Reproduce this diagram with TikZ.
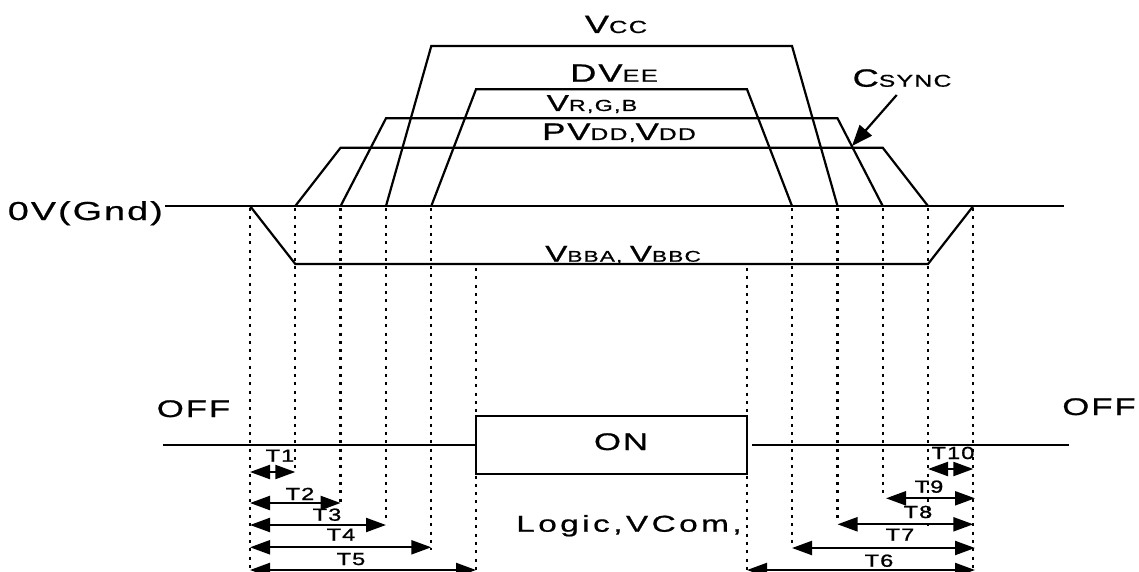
\documentclass[tikz,border=0pt]{standalone}
\usepackage{fontspec}
\setmainfont{Liberation Sans}
\newfontfamily\af[FakeStretch=1.45,LetterSpace=8,FakeBold=0.8]{Liberation Sans}
\newfontfamily\afw[FakeStretch=1.45,LetterSpace=15,FakeBold=0.8]{Liberation Sans}
\newfontfamily\aft[FakeStretch=1.35,LetterSpace=6,FakeBold=1]{Liberation Sans}
\usetikzlibrary{arrows.meta}
\newcommand\fsz[1]{\fontsize{#1}{#1}\selectfont}
\begin{document}
\begin{tikzpicture}[x=1pt,y=-1pt,
  wire/.style={line width=2.2pt, line join=miter},
  dotl/.style={line width=2.3pt, dash pattern=on 3pt off 5.3pt},
  dim/.style={line width=2.2pt, {Triangle[length=20pt,width=14pt]}-{Triangle[length=20pt,width=14pt]}},
  lbl/.style={inner sep=0pt, anchor=base, font=\af},
  tl/.style={inner sep=0pt, anchor=base, font=\aft\fsz{17.5}}]
\useasboundingbox (0,0) rectangle (1139,572);
% columns
\def\xa{250}\def\xb{295.3}\def\xc{340.6}\def\xd{386}\def\xe{431.3}\def\xf{476}
\def\xF{747}\def\xE{792}\def\xD{837.5}\def\xC{882.7}\def\xB{928}\def\xA{973.3}
% ground line
\coordinate (g0) at (165,206); \coordinate (g1) at (1064,206);
\draw[wire] (g0) -- (g1);
% waveforms
\draw[wire] (\xa,206) -- (\xb,264) -- (\xB,264) -- (\xA,206);
\draw[wire] (\xb,206) -- (\xc,147.7) -- (\xC,147.7) -- (\xB,206);
\draw[wire] (\xc,206) -- (\xd,118.3) -- (\xD,118.3) -- (\xC,206);
\draw[wire] (\xd,206) -- (\xe,46) -- (\xE,46) -- (\xD,206);
\draw[wire] (\xe,206) -- (\xf,89.3) -- (\xF,89.3) -- (\xE,206);
% dotted guides
\draw[dotl] (\xa,208) -- (\xa,572);
\draw[dotl] (\xb,208) -- (\xb,468);
\draw[dotl] (\xc,208) -- (\xc,503);
\draw[dotl] (\xd,208) -- (\xd,522);
\draw[dotl] (\xe,208) -- (\xe,550);
\draw[dotl] (\xf,268) -- (\xf,572);
\draw[dotl] (\xF,268) -- (\xF,572);
\draw[dotl] (\xE,208) -- (\xE,547);
\draw[dotl] (\xD,208) -- (\xD,521);
\draw[dotl] (\xC,208) -- (\xC,495);
\draw[dotl] (\xB,208) -- (\xB,527);
\draw[dotl] (\xA,208) -- (\xA,572);
% ON box and OFF lines
\node[draw, line width=2.2pt, fill=white, minimum width=271pt, minimum height=58pt, inner sep=0pt] (onbox) at (611.5,445) {};
\node[lbl] (ontxt) at (621,450) {\fsz{24}ON};
\coordinate (offL) at (163,445); \coordinate (offR) at (1069,445);
\draw[wire] (offL) -- (onbox.west);
\draw[wire] ([xshift=4pt]onbox.east) -- (offR);
% labels
\node[lbl, anchor=base east] (gnd) at (163,220) {\fsz{26}0V(Gnd)};
\node[lbl] (offl) at (193.5,417) {\fsz{24}OFF};
\node[lbl] (offr) at (1099,415) {\fsz{24}OFF};
\node[lbl, font=\afw] (logic) at (629,531.7) {\fsz{23}Logic,VCom,};
\node[lbl] (vcc) at (616,33) {\fsz{25}V\fsz{17.5}CC};
\node[lbl] (dvee) at (614,81.7) {\fsz{25}DV\fsz{17.5}EE};
\node[lbl] (vrgb) at (592,111) {\fsz{23}V\fsz{16}R,G,B};
\node[lbl] (pvdd) at (619,140) {\fsz{24}PV\fsz{17}DD,\fsz{24}V\fsz{17}DD};
\node[lbl] (vbb) at (623,261.7) {\fsz{23}V\fsz{15.5}BBA, \fsz{23}V\fsz{15.5}BBC};
\node[lbl] (csync) at (902,86.7) {\fsz{25}C\fsz{17}SYNC};
% Csync arrow
\coordinate (cs0) at (896.7,95); \coordinate (cs1) at (852,146);
\draw[line width=2.2pt, -{Triangle[length=21pt,width=16pt]}] (cs0) -- (cs1);
% left dimension arrows
\coordinate (L1a) at (\xa,472); \coordinate (L1b) at (\xb,472);
\coordinate (L2a) at (\xa,503); \coordinate (L2b) at (\xc,503);
\coordinate (L3a) at (\xa,525); \coordinate (L3b) at (\xd,525);
\coordinate (L4a) at (\xa,547.3); \coordinate (L4b) at (\xe,547.3);
\coordinate (L5a) at (\xa,570); \coordinate (L5b) at (\xf,570);
\draw[dim] (L1a) -- (L1b);
\draw[dim] (L2a) -- (L2b);
\draw[dim] (L3a) -- (L3b);
\draw[dim] (L4a) -- (L4b);
\draw[dim] (L5a) -- (L5b);
% right dimension arrows
\coordinate (R10a) at (\xB,469); \coordinate (R10b) at (\xA,469);
\coordinate (R9a) at (886,498.3); \coordinate (R9b) at (975,498.3);
\coordinate (R8a) at (\xD,524.3); \coordinate (R8b) at (\xA,524.3);
\coordinate (R7a) at (\xE,548); \coordinate (R7b) at (975,548);
\coordinate (R6a) at (\xF,570); \coordinate (R6b) at (975,570);
\draw[dim] (R10a) -- (R10b);
\draw[dim] (R9a) -- (R9b);
\draw[dim] (R8a) -- (R8b);
\draw[dim] (R7a) -- (R7b);
\draw[dim] (R6a) -- (R6b);
% T labels
\node[tl] (t1) at (280,461.7) {T1};
\node[tl] (t2) at (300,500) {T2};
\node[tl] (t3) at (327,520.7) {T3};
\node[tl] (t4) at (341,540.7) {T4};
\node[tl] (t5) at (351,565) {T5};
\node[tl] (t10) at (953,459) {T10};
\node[tl] (t9) at (929,492.7) {T9};
\node[tl] (t8) at (918,518) {T8};
\node[tl] (t7) at (900,540.7) {T7};
\node[tl] (t6) at (879,566.7) {T6};
\end{tikzpicture}
\end{document}
